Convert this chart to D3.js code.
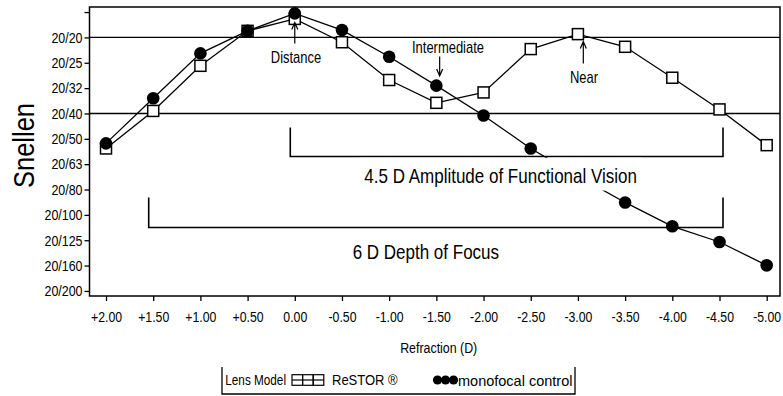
<!DOCTYPE html>
<html>
<head>
<meta charset="utf-8">
<script src="https://cdn.jsdelivr.net/npm/d3@7"></script>
<style>
  html, body { margin: 0; padding: 0; background: #fff; }
  svg { display: block; }
  text { font-family: "Liberation Sans", Arial, sans-serif; }
</style>
</head>
<body>
<svg id="chart" width="783" height="396"></svg>
<script>
// Defocus curve: visual acuity (logMAR, shown as Snellen) against refraction in dioptres
const refraction = [2.0, 1.5, 1.0, 0.5, 0.0, -0.5, -1.0, -1.5, -2.0, -2.5, -3.0, -3.5, -4.0, -4.5, -5.0];
const restorLogMAR = [0.438, 0.290, 0.112, -0.026, -0.073, 0.019, 0.168, 0.258, 0.217, 0.046, -0.013, 0.037, 0.159, 0.284, 0.425];
const monofocalLogMAR = [0.418, 0.240, 0.063, -0.026, -0.095, -0.029, 0.076, 0.190, 0.308, 0.438, 0.547, 0.651, 0.745, 0.807, 0.899];

const snellenLabels = ["20/20", "20/25", "20/32", "20/40", "20/50", "20/63", "20/80", "20/100", "20/125", "20/160", "20/200"];
const snellenLogMAR = [0.0, 0.1, 0.2, 0.3, 0.4, 0.5, 0.6, 0.7, 0.8, 0.9, 1.0];
const extraTickLogMAR = [-0.1];           // 20/16, tick only
const referenceLogMAR = [0.0, 0.3];       // 20/20 and 20/40 guide lines

const seriesNames = ["ReSTOR \u00AE", "monofocal control"];
const legendTitle = "Lens Model";

const svg = d3.select("#chart");
const plot = { left: 89.5, right: 780, top: 7, bottom: 296 };

const x = d3.scaleLinear().domain([2.175, -5.141]).range([plot.left, plot.right]);
const y = d3.scaleLinear().domain([-0.12, 1.02]).range([plot.top, plot.bottom]);

const fmtD = d => (d > 0 ? "+" : "") + d.toFixed(2);
const snellenOf = d => {
  const i = snellenLogMAR.findIndex(v => Math.abs(v - d) < 1e-6);
  return i >= 0 ? snellenLabels[i] : "";
};

// condensed lettering: squeeze text horizontally about its anchor point
function condense(sel, f) {
  sel.each(function () {
    const ax = +this.getAttribute("x") || 0;
    const prev = this.getAttribute("transform") || "";
    this.setAttribute("transform", `${prev} translate(${ax},0) scale(${f},1) translate(${-ax},0)`);
  });
}

// guide lines at 20/20 and 20/40
svg.append("g").selectAll("line").data(referenceLogMAR).join("line")
  .attr("x1", plot.left).attr("x2", plot.right)
  .attr("y1", d => y(d)).attr("y2", d => y(d))
  .attr("stroke", "#000").attr("stroke-width", 1.4);

// range brackets
const brackets = [
  { from: 0.0, to: -4.5, level: 0.47, arm: 29, label: "4.5 D Amplitude of Functional Vision", shift: -6, masked: true },
  { from: 1.5, to: -4.5, level: 0.75, arm: 30, label: "6 D Depth of Focus", shift: -10, masked: false }
];
const bracketG = svg.append("g");
brackets.forEach(b => {
  const x0 = x(b.from) - 4.5, x1 = x(b.to) + 3.5, yb = y(b.level);
  bracketG.append("path")
    .attr("d", `M${x0},${yb - b.arm}V${yb}H${x1}V${yb - b.arm}`)
    .attr("fill", "none").attr("stroke", "#000").attr("stroke-width", 1.6);
});

// series lines
const line = d3.line().x((d, i) => x(refraction[i])).y(d => y(d));
svg.append("path").datum(restorLogMAR).attr("d", line)
  .attr("fill", "none").attr("stroke", "#000").attr("stroke-width", 1.3);
svg.append("path").datum(monofocalLogMAR).attr("d", line)
  .attr("fill", "none").attr("stroke", "#000").attr("stroke-width", 1.3);

// markers: open squares for ReSTOR, filled circles for monofocal
const sq = 11;
svg.append("g").selectAll("rect").data(restorLogMAR).join("rect")
  .attr("x", (d, i) => x(refraction[i]) - sq / 2)
  .attr("y", d => y(d) - sq / 2)
  .attr("width", sq).attr("height", sq)
  .attr("fill", "#fff").attr("stroke", "#000").attr("stroke-width", 1.5);
svg.append("g").selectAll("circle").data(monofocalLogMAR).join("circle")
  .attr("cx", (d, i) => x(refraction[i]))
  .attr("cy", d => y(d))
  .attr("r", 6.3).attr("fill", "#000");

// bracket labels (white backing where needed)
brackets.forEach(b => {
  const cx = (x(b.from) - 4.5 + x(b.to) + 3.5) / 2 + b.shift;
  const yb = y(b.level);
  const baseline = yb + (b.masked ? 26.5 : 31);
  const g = svg.append("g");
  const bg = g.append("rect").attr("fill", "#fff");
  const t = g.append("text")
    .attr("x", cx).attr("y", baseline)
    .attr("text-anchor", "middle").attr("font-size", 20)
    .text(b.label);
  const f = 0.85;
  if (b.masked) {
    const bb = t.node().getBBox();
    const w = bb.width * f;
    bg.attr("x", cx - w / 2 - 5).attr("width", w + 10)
      .attr("y", yb + 1.2).attr("height", baseline + 7.5 - (yb + 1.2));
  } else {
    bg.remove();
  }
  condense(t, f);
});

// focus annotations with arrows
const notes = [
  { text: "Distance", at: 0.0, tx: 296, baseline: 63.5, tail: 43.5, tip: 22.5 },
  { text: "Intermediate", at: -1.535, tx: 448, baseline: 53.5, tail: 56.5, tip: 76 },
  { text: "Near", at: -3.057, tx: 584, baseline: 83.5, tail: 63.5, tip: 41.5 }
];
notes.forEach(n => {
  const ax = x(n.at);
  const dir = n.tip < n.tail ? 1 : -1;
  svg.append("path")
    .attr("d", `M${ax},${n.tail}V${n.tip}M${ax - 3},${n.tip + dir * 7}L${ax},${n.tip}L${ax + 3},${n.tip + dir * 7}`)
    .attr("fill", "none").attr("stroke", "#000").attr("stroke-width", 1.2);
  svg.append("text")
    .attr("x", n.tx).attr("y", n.baseline)
    .attr("text-anchor", "middle").attr("font-size", 16)
    .text(n.text)
    .call(condense, 0.81);
});

// axes
const yAxis = d3.axisLeft(y)
  .tickValues(extraTickLogMAR.concat(snellenLogMAR))
  .tickFormat(snellenOf).tickSize(5).tickPadding(2);
const gy = svg.append("g").attr("transform", `translate(${plot.left},0)`).call(yAxis);
gy.select(".domain").remove();
gy.selectAll("line").attr("stroke-width", 1.3);
gy.selectAll("text").attr("font-family", null).attr("font-size", 15).attr("fill", "#000").call(condense, 0.83);
gy.attr("font-family", null);

const xAxis = d3.axisBottom(x).tickValues(refraction).tickFormat(fmtD).tickSize(5).tickPadding(10);
const gx = svg.append("g").attr("transform", `translate(0,${plot.bottom})`).call(xAxis);
gx.select(".domain").remove();
gx.selectAll("line").attr("stroke-width", 1.3);
gx.selectAll("text").attr("font-size", 15).attr("fill", "#000").call(condense, 0.82);
gx.attr("font-family", null);

// frame
svg.append("rect")
  .attr("x", plot.left).attr("y", plot.top)
  .attr("width", plot.right - plot.left).attr("height", plot.bottom - plot.top)
  .attr("fill", "none").attr("stroke", "#000").attr("stroke-width", 1.5);

// axis titles
svg.append("text")
  .attr("transform", "translate(33.5,145.5) rotate(-90) scale(0.85,1)")
  .attr("text-anchor", "middle").attr("font-size", 30)
  .text("Snellen");
svg.append("text")
  .attr("x", 438.7).attr("y", 353).attr("text-anchor", "middle").attr("font-size", 15.5)
  .text("Refraction (D)")
  .call(condense, 0.8);

// legend
const lg = svg.append("g");
const ly = 380, lBase = 385.5;
lg.append("path").attr("d", "M222,367V394H575V367")
  .attr("fill", "none").attr("stroke", "#000").attr("stroke-width", 1.3);
lg.append("text").attr("x", 286).attr("y", lBase).attr("text-anchor", "end")
  .attr("font-size", 14).text(legendTitle)
  .call(condense, 0.84);
const lsq = 10.6, lsx = 292;
lg.append("line").attr("x1", lsx).attr("x2", lsx + 3 * lsq).attr("y1", ly).attr("y2", ly)
  .attr("stroke", "#000").attr("stroke-width", 1.2);
lg.selectAll("rect.sym").data([0, 1, 2]).join("rect").attr("class", "sym")
  .attr("x", d => lsx + d * lsq).attr("y", ly - lsq / 2)
  .attr("width", lsq).attr("height", lsq)
  .attr("fill", "none").attr("stroke", "#000").attr("stroke-width", 1.2);
lg.append("text").attr("x", 332).attr("y", lBase)
  .attr("font-size", 14).text(seriesNames[0])
  .call(condense, 0.93);
lg.selectAll("circle").data([0, 1, 2]).join("circle")
  .attr("cx", d => 437.5 + d * 8).attr("cy", ly).attr("r", 4.6).attr("fill", "#000");
lg.append("text").attr("x", 458).attr("y", lBase)
  .attr("font-size", 14.5).text(seriesNames[1]);
</script>
</body>
</html>
